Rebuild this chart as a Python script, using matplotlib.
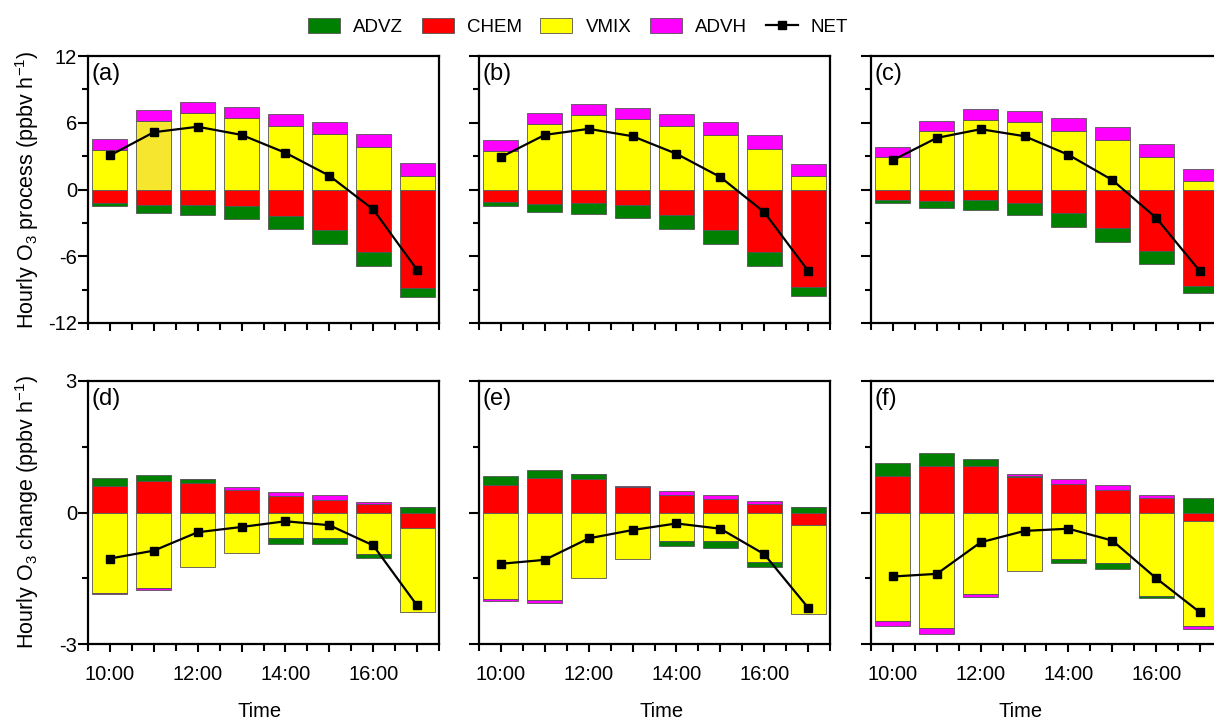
import matplotlib
matplotlib.use("Agg")
import matplotlib.pyplot as plt
import matplotlib.patches as mpatches
from matplotlib.lines import Line2D
from matplotlib.ticker import MultipleLocator, FixedLocator, FuncFormatter
import numpy as np

plt.rcParams["font.family"] = ["Liberation Sans", "DejaVu Sans"]
plt.rcParams["mathtext.fontset"] = "custom"
plt.rcParams["mathtext.rm"] = "Liberation Sans"

hours = [10, 11, 12, 13, 14, 15, 16, 17]
panel_labels = ["(a)", "(b)", "(c)", "(d)", "(e)", "(f)"]

# process contributions (ppbv/h) for each panel
advz = {
    "a": [-0.30, -0.72, -0.94, -1.09, -1.19, -1.24, -1.24, -0.79],
    "b": [-0.33, -0.76, -0.97, -1.13, -1.25, -1.30, -1.24, -0.82],
    "c": [-0.24, -0.61, -0.91, -1.06, -1.24, -1.28, -1.15, -0.57],
    "d": [0.18, 0.15, 0.09, 0.0, -0.12, -0.13, -0.08, 0.13],
    "e": [0.20, 0.19, 0.11, 0.0, -0.12, -0.15, -0.11, 0.12],
    "f": [0.29, 0.30, 0.18, 0.03, -0.11, -0.15, -0.03, 0.34],
}
chem = {
    "a": [-1.21, -1.39, -1.36, -1.52, -2.39, -3.67, -5.64, -8.88],
    "b": [-1.15, -1.27, -1.24, -1.42, -2.33, -3.64, -5.61, -8.79],
    "c": [-0.97, -1.03, -0.97, -1.24, -2.09, -3.45, -5.52, -8.70],
    "d": [0.61, 0.71, 0.68, 0.52, 0.37, 0.29, 0.19, -0.36],
    "e": [0.63, 0.78, 0.76, 0.58, 0.39, 0.30, 0.20, -0.29],
    "f": [0.83, 1.05, 1.05, 0.81, 0.64, 0.51, 0.33, -0.19],
}
vmix = {
    "a": [3.58, 6.15, 6.88, 6.42, 5.70, 4.97, 3.79, 1.24],
    "b": [3.42, 5.91, 6.70, 6.33, 5.67, 4.94, 3.67, 1.18],
    "c": [2.94, 5.27, 6.27, 6.03, 5.27, 4.42, 2.91, 0.73],
    "d": [-1.83, -1.72, -1.25, -0.93, -0.59, -0.58, -0.95, -1.90],
    "e": [-1.97, -2.00, -1.49, -1.05, -0.65, -0.65, -1.13, -2.02],
    "f": [-2.47, -2.63, -1.87, -1.33, -1.05, -1.15, -1.91, -2.40],
}
advh = {
    "a": [0.97, 1.03, 1.03, 1.00, 1.12, 1.12, 1.24, 1.12],
    "b": [1.00, 1.00, 1.00, 1.00, 1.12, 1.12, 1.24, 1.12],
    "c": [0.88, 0.91, 0.94, 1.03, 1.15, 1.16, 1.21, 1.15],
    "d": [-0.04, -0.05, 0.0, 0.06, 0.09, 0.10, 0.05, 0.0],
    "e": [-0.04, -0.06, 0.0, 0.03, 0.09, 0.09, 0.06, 0.0],
    "f": [-0.13, -0.15, -0.06, 0.03, 0.12, 0.11, 0.07, -0.07],
}
net = {
    "a": [3.06, 5.15, 5.64, 4.91, 3.30, 1.24, -1.79, -7.21],
    "b": [2.91, 4.91, 5.45, 4.79, 3.21, 1.12, -2.03, -7.30],
    "c": [2.64, 4.64, 5.42, 4.79, 3.12, 0.85, -2.55, -7.36],
    "d": [-1.05, -0.87, -0.45, -0.33, -0.20, -0.29, -0.75, -2.12],
    "e": [-1.17, -1.08, -0.59, -0.40, -0.25, -0.37, -0.95, -2.17],
    "f": [-1.46, -1.40, -0.68, -0.42, -0.37, -0.64, -1.50, -2.28],
}

colors = {"ADVZ": "#008000", "CHEM": "#ff0000", "VMIX": "#ffff00", "ADVH": "#ff00ff"}
edge = "#555555"

W, H = 1214, 721
fig = plt.figure(figsize=(W / 100, H / 100), dpi=100)

col_left = [88, 479, 871]
col_w = 351
rows = [(56, 323), (381, 644)]
time_x = [0.49, 0.52, 0.425]


def stacked(ax, x, series):
    # positive and negative parts are stacked separately, CHEM/VMIX nearest zero
    pos = np.zeros(len(x))
    neg = np.zeros(len(x))
    handles = []
    for name, vals in series:
        vals = np.asarray(vals, float)
        bottoms = np.where(vals >= 0, pos, neg)
        b = ax.bar(x, vals, width=0.8, bottom=bottoms, color=colors[name],
                   edgecolor=edge, linewidth=0.6, zorder=2)
        handles.append(b)
        pos = pos + np.where(vals >= 0, vals, 0)
        neg = neg + np.where(vals < 0, vals, 0)
    return handles


keys = ["a", "b", "c", "d", "e", "f"]
for i, k in enumerate(keys):
    r, c = divmod(i, 3)
    top, bot = rows[r]
    ax = fig.add_axes([col_left[c] / W, 1 - bot / H, col_w / W, (bot - top) / H])
    hs = stacked(ax, hours, [("CHEM", chem[k]), ("VMIX", vmix[k]),
                             ("ADVZ", advz[k]), ("ADVH", advh[k])])
    if k == "a":
        hs[1][1].set_facecolor("#f7e62e")
    ax.plot(hours, net[k], "-s", color="black", lw=1.6, ms=6, zorder=3)

    ax.set_xlim(9.5, 17.5)
    ax.xaxis.set_major_locator(MultipleLocator(1))
    ax.xaxis.set_minor_locator(FixedLocator(np.arange(9.5, 17.6, 1)))
    if r == 0:
        ax.set_ylim(-12, 12)
        ax.yaxis.set_major_locator(MultipleLocator(6))
        ax.yaxis.set_minor_locator(MultipleLocator(3))
        ax.set_xticklabels([])
    else:
        ax.set_ylim(-3, 3)
        ax.yaxis.set_major_locator(MultipleLocator(3))
        ax.yaxis.set_minor_locator(MultipleLocator(1.5))
        ax.xaxis.set_major_formatter(FuncFormatter(
            lambda v, p: f"{int(round(v))}:00" if int(round(v)) % 2 == 0 else ""))
        ax.set_xlabel("Time", fontsize=14.5)
        ax.xaxis.set_label_coords(time_x[c], -0.22)
    if c == 0:
        ax.yaxis.set_major_formatter(FuncFormatter(lambda v, p: f"{v:g}"))
        lab = "Hourly O$_3$ process (ppbv h$^{-1}$)" if r == 0 else "Hourly O$_3$ change (ppbv h$^{-1}$)"
        ax.set_ylabel(lab, fontsize=15.5)
        ax.yaxis.set_label_coords(-0.135, 0.5)
    else:
        ax.set_yticklabels([])

    ax.tick_params(which="both", direction="out", width=1.5, labelsize=14.5)
    ax.tick_params(axis="y", which="major", length=7, pad=1)
    ax.tick_params(axis="y", which="minor", length=4)
    ax.tick_params(axis="x", which="major", length=6, pad=9)
    ax.tick_params(axis="x", which="minor", length=5)
    for s in ax.spines.values():
        s.set_linewidth(1.6)
    ax.text(0.01, 0.975, panel_labels[i], transform=ax.transAxes, fontsize=17,
            va="top", ha="left")

handles = [mpatches.Patch(facecolor=colors[n], edgecolor=edge, linewidth=0.6)
           for n in ["ADVZ", "CHEM", "VMIX", "ADVH"]]
handles.append(Line2D([], [], color="black", marker="s", lw=1.6, ms=6))
fig.legend(handles, ["ADVZ", "CHEM", "VMIX", "ADVH", "NET"], loc="center",
           bbox_to_anchor=(578 / W, 1 - 27 / H), ncol=5, frameon=False,
           fontsize=13.5, handlelength=1.7, handleheight=0.9,
           columnspacing=1.0, handletextpad=0.7)

fig.savefig("out.png", dpi=100)
